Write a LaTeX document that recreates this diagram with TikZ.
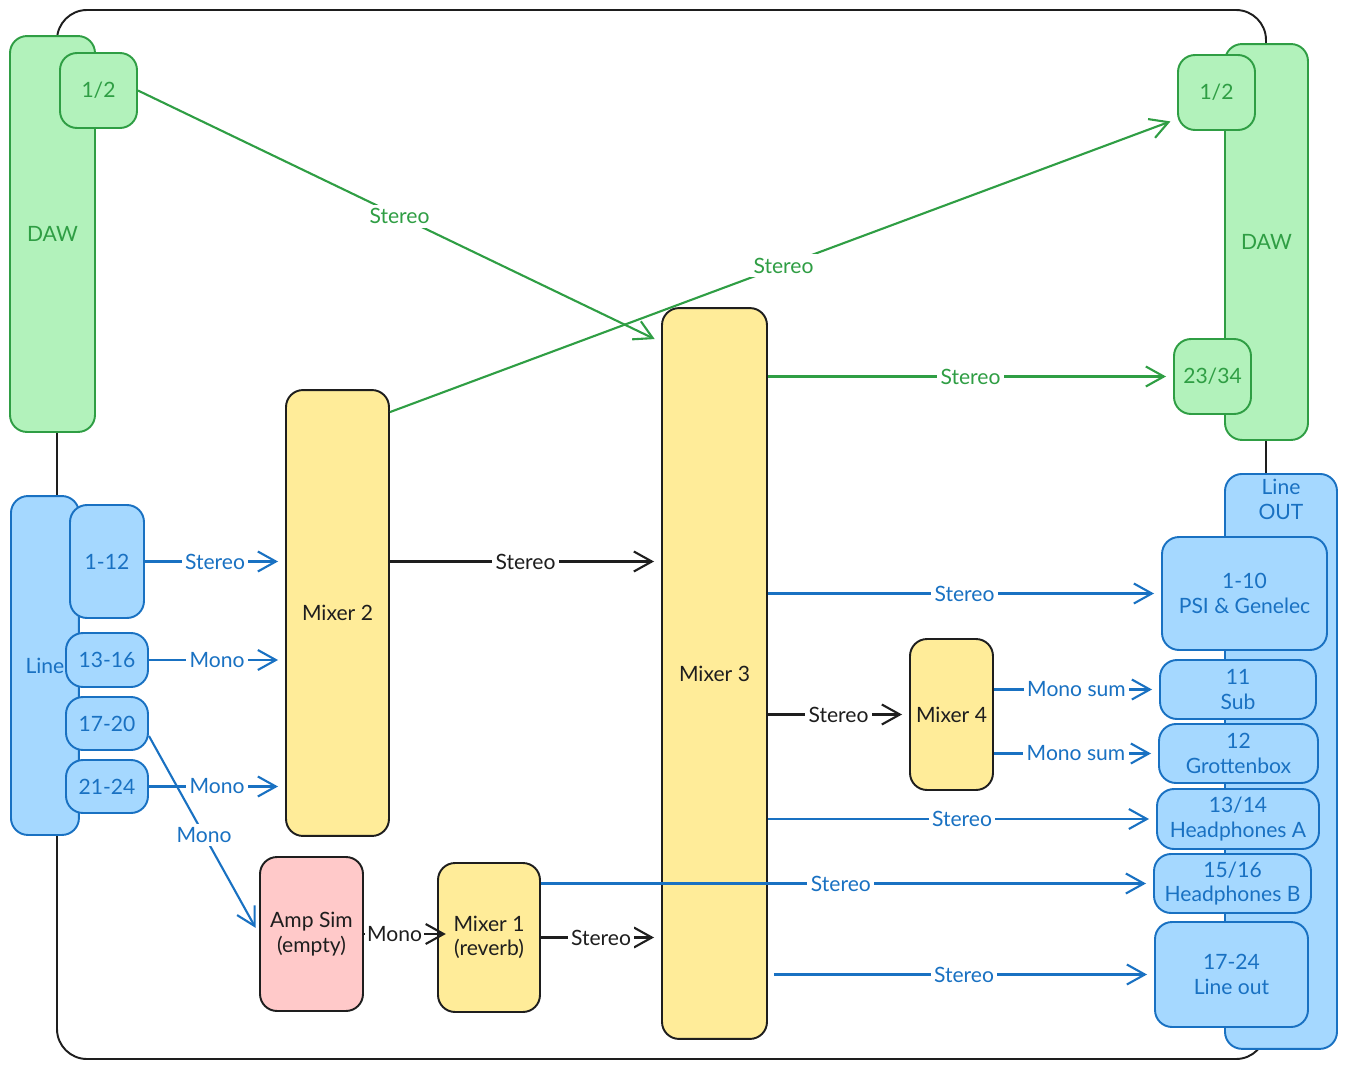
\documentclass[tikz,border=0pt]{standalone}
\usepackage{fontspec}
\setmainfont{Lato}
\usetikzlibrary{arrows.meta}
\definecolor{grline}{HTML}{2F9E44}
\definecolor{grfill}{HTML}{B2F2BB}
\definecolor{blline}{HTML}{1971C2}
\definecolor{blfill}{HTML}{A5D8FF}
\definecolor{yefill}{HTML}{FFEC99}
\definecolor{pkfill}{HTML}{FFC9C9}
\definecolor{inkblk}{HTML}{1E1E1E}
\tikzset{
  box/.style={draw, line width=1.1pt, rounded corners=0.34cm, align=center, inner sep=0pt,
    font=\fontsize{12}{14}\selectfont},
  dawbox/.style={box, draw=grline, fill=grfill, text=grline},
  linebox/.style={box, draw=blline, fill=blfill, text=blline},
  mixbox/.style={box, draw=inkblk, fill=yefill, text=inkblk},
  ampbox/.style={box, draw=inkblk, fill=pkfill, text=inkblk},
  wire/.style={line width=1.2pt, -{Straight Barb[length=0.36cm, width=0.4cm, line width=1.2pt]}, shorten >=4pt},
  lbl/.style={fill=white, inner sep=2pt, font=\fontsize{12}{14}\selectfont},
}
\begin{document}
\begin{tikzpicture}[x=0.02cm, y=-0.02cm]
    \useasboundingbox (0,0) rectangle (1347,1069);

    % outer frame
    \draw[inkblk, line width=1.1pt, rounded corners=0.6cm] (57,10) rectangle (1266,1059);

    % DAW (left)
    \node[dawbox, minimum width=1.70cm, minimum height=7.92cm] (dawl) at (52.5,234) {DAW};
    \node[dawbox, minimum width=1.54cm, minimum height=1.50cm] (dl12) at (98.5,90.5) {1/2};

    % Line inputs (left)
    \node[linebox, minimum width=1.36cm, minimum height=6.78cm, anchor=west] (linel) at (10,665.5) {Line};
    \node[linebox, minimum width=1.48cm, minimum height=2.26cm] (l112) at (107,561.5) {1-12};
    \node[linebox, minimum width=1.64cm, minimum height=1.08cm] (l1316) at (107,660) {13-16};
    \node[linebox, minimum width=1.64cm, minimum height=1.06cm] (l1720) at (107,723.5) {17-20};
    \node[linebox, minimum width=1.64cm, minimum height=1.06cm] (l2124) at (107,786.5) {21-24};

    % mixers
    \node[mixbox, minimum width=2.06cm, minimum height=8.92cm] (m2) at (337.5,613) {Mixer 2};
    \node[mixbox, minimum width=2.10cm, minimum height=14.62cm] (m3) at (714.5,673.5) {Mixer 3};
    \node[mixbox, minimum width=1.66cm, minimum height=3.02cm] (m4) at (951.5,714.5) {Mixer 4};
    \node[ampbox, minimum width=2.06cm, minimum height=3.08cm] (amp) at (311.5,934) {Amp Sim\\(empty)};
    \node[mixbox, minimum width=2.04cm, minimum height=2.98cm] (m1) at (489,937.5) {Mixer 1\\(reverb)};

    % DAW (right)
    \node[dawbox, minimum width=1.66cm, minimum height=7.92cm] (dawr) at (1266.5,242) {DAW};
    \node[dawbox, minimum width=1.54cm, minimum height=1.50cm] (dr12) at (1216.5,92.5) {1/2};
    \node[dawbox, minimum width=1.54cm, minimum height=1.50cm] (dr2334) at (1212.5,376.5) {23/34};

    % Line OUT (right)
    \node[linebox, minimum width=2.24cm, minimum height=11.50cm, anchor=north,
      label={[anchor=north, align=center, text=blline, font=\fontsize{12}{14}\selectfont,
        inner sep=0pt, yshift=-0.12cm]north:Line\\OUT}] (lineout) at (1281,473) {};
    \node[linebox, minimum width=3.30cm, minimum height=2.26cm] (o110) at (1244.5,593.5) {1-10\\PSI \& Genelec};
    \node[linebox, minimum width=3.12cm, minimum height=1.18cm] (o11) at (1238,689.5) {11\\Sub};
    \node[linebox, minimum width=3.18cm, minimum height=1.18cm] (o12) at (1238.5,753.5) {12\\Grottenbox};
    \node[linebox, minimum width=3.24cm, minimum height=1.20cm] (o1314) at (1238,819) {13/14\\Headphones A};
    \node[linebox, minimum width=3.14cm, minimum height=1.18cm] (o1516) at (1232.5,883.5) {15/16\\Headphones B};
    \node[linebox, minimum width=3.06cm, minimum height=2.10cm] (o1724) at (1231.5,974.5) {17-24\\Line out};

    % green connectors
    \draw[wire, grline] (dl12.east) -- ([yshift=-0.7cm]m3.north west) node[lbl, midway, text=grline] {Stereo};
    \draw[wire, grline] ([yshift=-0.46cm]m2.north east) -- ([yshift=0.24cm]dr12.south west) node[lbl, midway, text=grline] {Stereo};
    \draw[wire, grline] (m3.east |- dr2334) -- (dr2334.west) node[lbl, midway, text=grline] {Stereo};

    % blue connectors
    \draw[wire, blline] (l112.east) -- (m2.west |- l112.east) node[lbl, midway, text=blline] {Stereo};
    \draw[wire, blline] (l1316.east) -- (m2.west |- l1316.east) node[lbl, midway, text=blline] {Mono};
    \draw[wire, blline] (l2124.east) -- (m2.west |- l2124.east) node[lbl, midway, text=blline] {Mono};
    \draw[wire, blline] ([yshift=-0.25cm]l1720.east) -- (amp.west) node[lbl, midway, text=blline] {Mono};
    \draw[wire, blline] (m3.east |- o110) -- (o110.west) node[lbl, midway, text=blline] {Stereo};
    \draw[wire, blline] (m4.east |- o11) -- (o11.west) node[lbl, midway, text=blline] {Mono sum};
    \draw[wire, blline] (m4.east |- o12) -- (o12.west) node[lbl, midway, text=blline] {Mono sum};
    \draw[wire, blline] (m3.east |- o1314) -- (o1314.west) node[lbl, midway, text=blline] {Stereo};
    \draw[wire, blline] (m1.east |- o1516) -- (o1516.west) node[lbl, pos=0.49, text=blline] {Stereo};
    \draw[wire, blline] ([xshift=0.12cm]m3.east |- o1724) -- (o1724.west) node[lbl, midway, text=blline] {Stereo};

    % black connectors
    \draw[wire, inkblk] (m2.east |- l112) -- (m3.west |- l112) node[lbl, midway] {Stereo};
    \draw[wire, inkblk] (m3.east |- m4) -- (m4.west) node[lbl, midway] {Stereo};
    \draw[wire, inkblk, shorten >=-5pt] (amp.east) -- (m1.west |- amp.east) node[lbl, pos=0.42, inner xsep=1pt] {Mono};
    \draw[wire, inkblk] (m1.east) -- (m3.west |- m1.east) node[lbl, midway] {Stereo};
\end{tikzpicture}
\end{document}
